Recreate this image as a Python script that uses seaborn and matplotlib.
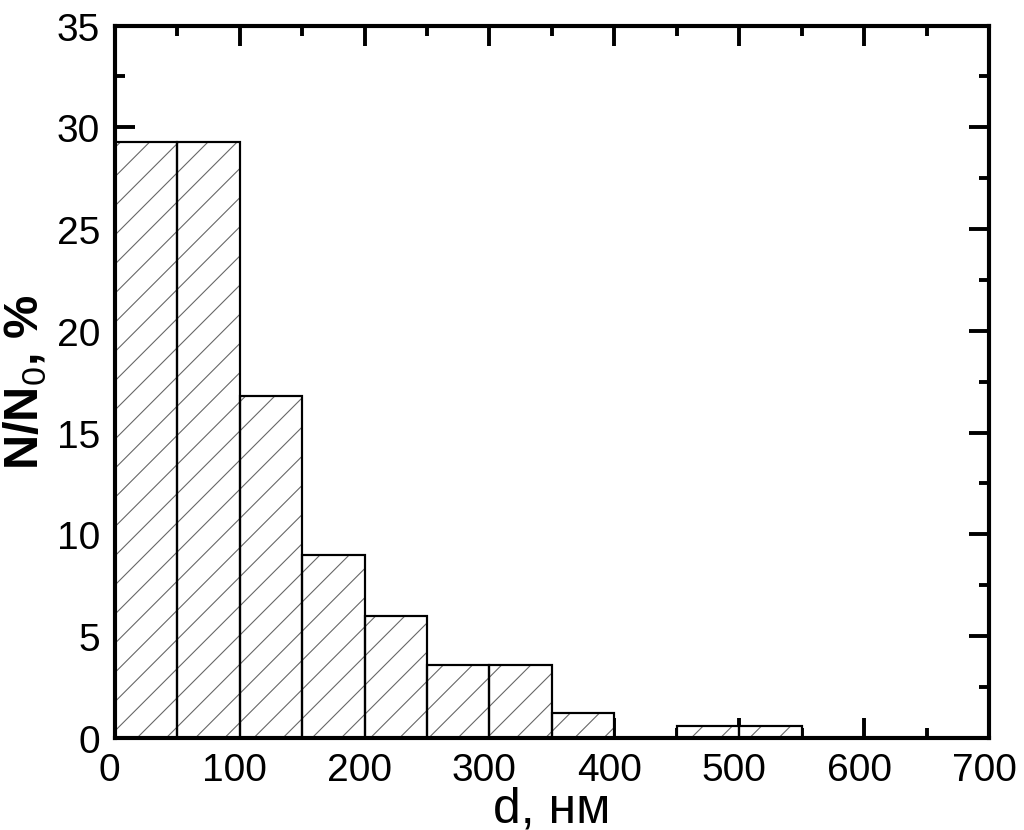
import matplotlib
matplotlib.use('Agg')
import matplotlib.pyplot as plt
import matplotlib.transforms as mtransforms
from matplotlib.ticker import MultipleLocator
import seaborn as sns
import numpy as np

# Datos del histograma
bordes = [0, 50, 100, 150, 200, 250, 300, 350, 400, 450, 500, 550]
porcentajes = [29.3, 29.3, 16.8, 9.0, 6.0, 3.6, 3.6, 1.2, 0.0, 0.6, 0.6]
centros = [(a + b) / 2 for a, b in zip(bordes[:-1], bordes[1:])]

sns.set_style('ticks')
plt.rcParams['font.family'] = ['Liberation Sans', 'DejaVu Sans']
plt.rcParams['mathtext.fontset'] = 'custom'
plt.rcParams['mathtext.rm'] = 'Liberation Sans'
plt.rcParams['text.color'] = 'black'
plt.rcParams['axes.labelcolor'] = 'black'
plt.rcParams['xtick.color'] = 'black'
plt.rcParams['ytick.color'] = 'black'
plt.rcParams['hatch.linewidth'] = 0.45

dpi = 175
fig = plt.figure(figsize=(1024 / dpi, 831 / dpi), dpi=dpi)
ax = fig.add_axes([0.112, 0.111, 0.854, 0.857])

# Capa 1: rayado gris sin borde
sns.histplot(x=centros, weights=porcentajes, bins=bordes, ax=ax,
             color='white', edgecolor='0.4', hatch='//', linewidth=0, alpha=1)
# Capa 2: contornos negros
sns.histplot(x=centros, weights=porcentajes, bins=bordes, ax=ax,
             fill=False, color='black', linewidth=0.9, alpha=1)

ax.set_xlim(0, 700)
ax.set_ylim(0, 35)
ax.xaxis.set_major_locator(MultipleLocator(100))
ax.xaxis.set_minor_locator(MultipleLocator(50))
ax.yaxis.set_major_locator(MultipleLocator(5))
ax.yaxis.set_minor_locator(MultipleLocator(2.5))

ax.tick_params(which='both', direction='in', top=True, right=True, width=1.6,
               color='black', labelcolor='black')
ax.tick_params(which='major', length=8.2, labelsize=16, pad=6)
ax.tick_params(which='minor', length=4.1)

# las etiquetas del eje x están algo desplazadas a la izquierda en el original
desplazamiento = mtransforms.ScaledTranslation(-5 / dpi, 0, fig.dpi_scale_trans)
for etiqueta in ax.get_xticklabels():
    etiqueta.set_transform(etiqueta.get_transform() + desplazamiento)

for s in ax.spines.values():
    s.set_linewidth(1.7)
    s.set_color('black')

ax.set_xlabel('d, нм', fontsize=20.5, labelpad=-1)
ax.set_ylabel(r'N/N$_\mathrm{0}$, %', fontsize=20, fontweight='bold', labelpad=3)

fig.savefig('out.png', dpi=dpi)
